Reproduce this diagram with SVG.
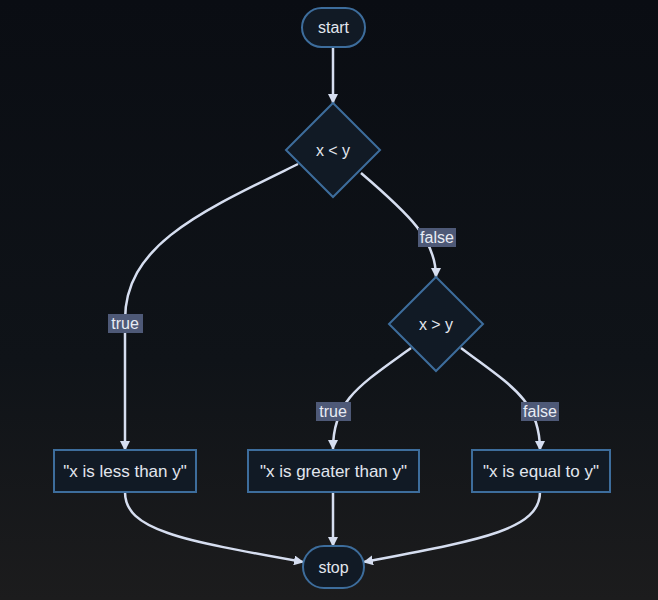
<svg xmlns="http://www.w3.org/2000/svg" width="658" height="600" viewBox="0 0 658 600">
<defs>
<linearGradient id="bg" x1="0" y1="0" x2="0" y2="1">
<stop offset="0" stop-color="#0a0d13"/>
<stop offset="0.6" stop-color="#0f1318"/>
<stop offset="1" stop-color="#1c1c1d"/>
</linearGradient>
<marker id="arr" viewBox="0 0 10 10" refX="9" refY="5" markerWidth="10" markerHeight="10" markerUnits="userSpaceOnUse" orient="auto">
<path d="M0,0 L10,5 L0,10 z" fill="#d6def0"/>
</marker>
<style>
.node{fill:#111a25;stroke:#3d6d9c;stroke-width:2}
.t{font-family:"Liberation Sans",Arial,sans-serif;font-size:16px;fill:#e2e6ee;text-anchor:middle;dominant-baseline:central}
.e{fill:none;stroke:#d6def0;stroke-width:2.5;marker-end:url(#arr)}
.lb{fill:#4e5977}
.lt{font-family:"Liberation Sans",Arial,sans-serif;font-size:16px;fill:#e8ecf4;text-anchor:middle;dominant-baseline:central}
</style>
</defs>
<rect width="658" height="600" fill="url(#bg)"/>
<g id="connectors">
<path class="e" d="M333,47 L333,103"/>
<path class="e" d="M298,164 C200,212 125,245 125,320 L125,450"/>
<path class="e" d="M361,173 C410,215 436,240 436,277"/>
<path class="e" d="M411,348 C360,385 333,400 333,449"/>
<path class="e" d="M461,348 C510,385 540,400 540,450"/>
<path class="e" d="M125,492 C125,530 180,540 303,562"/>
<path class="e" d="M333,492 L333,546"/>
<path class="e" d="M540,492 C540,530 480,540 364,562"/>
<g id="lbl-false1"><rect class="lb" x="418" y="228" width="38" height="19"/><text class="lt" x="437" y="237">false</text></g>
<g id="lbl-true1"><rect class="lb" x="108" y="314" width="35" height="19"/><text class="lt" x="125" y="323">true</text></g>
<g id="lbl-true2"><rect class="lb" x="316" y="402" width="35" height="19"/><text class="lt" x="333" y="411">true</text></g>
<g id="lbl-false2"><rect class="lb" x="521" y="402" width="38" height="19"/><text class="lt" x="540" y="411">false</text></g>
</g>
<g id="start"><rect class="node" x="302" y="8" width="63" height="39" rx="19.5"/><text class="t" x="333.5" y="27.5">start</text></g>
<g id="cond1"><polygon class="node" points="333,103 380,150 333,197 286,150"/><text class="t" x="333" y="150">x &lt; y</text></g>
<g id="cond2"><polygon class="node" points="436,277 483,324 436,371 389,324"/><text class="t" x="436" y="324">x &gt; y</text></g>
<g id="less"><rect class="node" x="54" y="450" width="142" height="42"/><text class="t" x="125" y="471" style="font-size:17px">"x is less than y"</text></g>
<g id="greater"><rect class="node" x="248" y="450" width="171" height="42"/><text class="t" x="333.5" y="471" style="font-size:17px">"x is greater than y"</text></g>
<g id="equal"><rect class="node" x="472" y="450" width="138" height="42"/><text class="t" x="541" y="471" style="font-size:17px">"x is equal to y"</text></g>
<g id="stop"><rect class="node" x="303" y="546" width="61" height="42" rx="21"/><text class="t" x="333.5" y="567">stop</text></g>
</svg>
